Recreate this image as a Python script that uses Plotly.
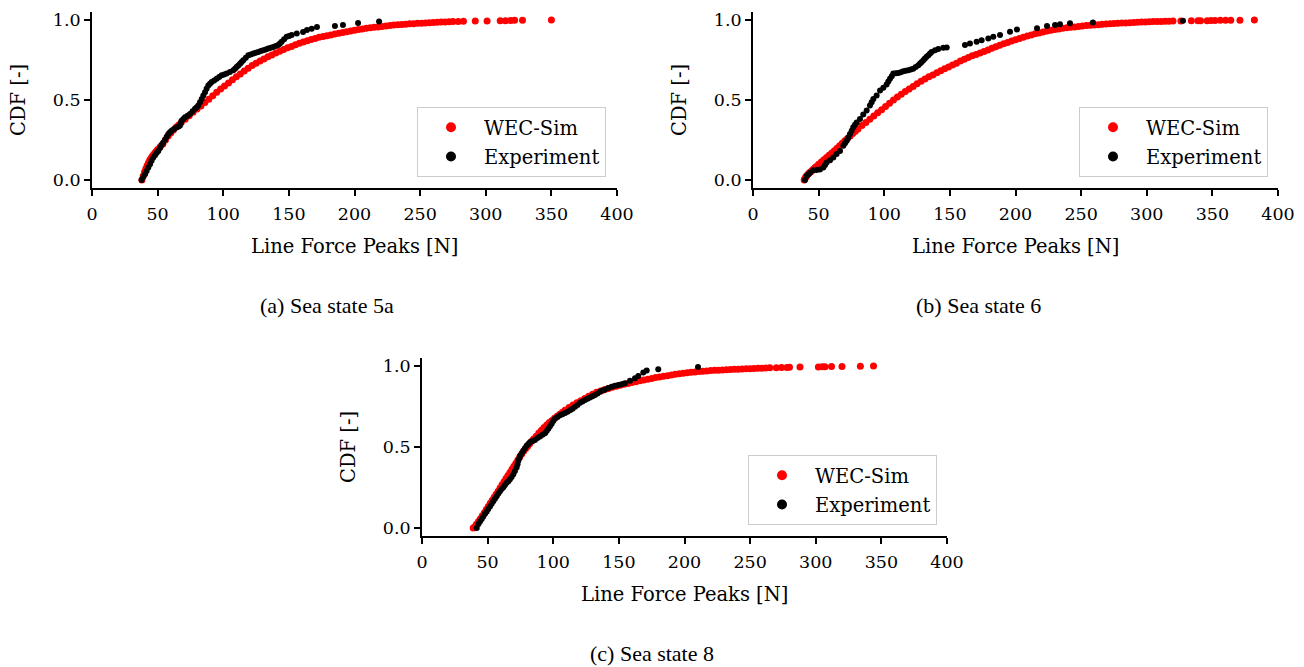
import plotly.graph_objects as go

# ---- Sea state 5a : line force peaks [N] and empirical CDF ----
sim_a_force = [38, 39, 40, 41, 42, 43, 44, 45, 46, 47, 48, 49, 50,
               52, 54, 56, 58, 60, 62, 64, 66, 68,
               71, 74, 77, 80, 83, 86, 89, 92, 95, 98, 101, 104, 107, 110, 113, 116, 119, 122,
               125, 128, 131, 134, 137, 140, 143, 146, 149, 152, 155, 158, 161, 164, 167, 170,
               173, 176, 179, 182, 185, 188, 191, 194, 197, 200, 203, 206, 209, 212, 215, 218,
               221, 224, 227, 230, 233, 236, 239, 242, 245, 248, 251, 254, 257, 260, 263, 266,
               269, 272,
               275, 279, 283, 292, 301, 311, 315, 319, 322, 328, 350]
sim_a_cdf = [0.000, 0.025, 0.050, 0.070, 0.090, 0.108, 0.125, 0.138, 0.150, 0.160, 0.170, 0.180, 0.190,
             0.208, 0.225, 0.250, 0.275, 0.293, 0.312, 0.330, 0.344, 0.359,
             0.380, 0.401, 0.423, 0.443, 0.463, 0.484, 0.505, 0.527, 0.548, 0.568, 0.588, 0.607, 0.627,
             0.646, 0.663, 0.681, 0.698, 0.715, 0.729, 0.743, 0.756, 0.770,
             0.782, 0.793, 0.805, 0.816, 0.826, 0.835, 0.845, 0.854, 0.862, 0.870,
             0.878, 0.885, 0.892, 0.897, 0.902, 0.907, 0.912, 0.917, 0.922, 0.927,
             0.932, 0.936, 0.940, 0.944, 0.948, 0.951, 0.954, 0.957, 0.960, 0.963,
             0.965, 0.968, 0.970, 0.972, 0.974, 0.976, 0.977, 0.979, 0.980, 0.982,
             0.983, 0.985, 0.986, 0.987, 0.988, 0.989,
             0.990, 0.991, 0.992, 0.993, 0.994, 0.995, 0.996, 0.997, 0.998, 0.999, 1.000]

exp_a_force = [37.8, 39.0, 40.4, 41.6, 42.9, 44.2, 45.4, 46.7, 48.0, 49.2, 50.5, 51.8, 53.0, 54.3,
               55.6, 56.9, 58.2, 59.4, 60.7, 62.6, 64.5, 66.0, 67.0, 67.6, 68.3, 69.6, 70.9, 72.8,
               74.7, 76.6, 78.5, 79.8, 81.0, 82.3, 83.6, 84.8, 86.1, 87.3, 88.6, 89.9, 91.2, 93.1,
               95.0, 96.9, 98.8, 100.7, 102.6, 105.1, 107.7, 109.0, 110.2, 111.5, 112.8, 114.0,
               115.3, 117.2, 119.1, 121.0, 122.9, 124.8, 126.7, 128.6, 130.5, 132.4, 134.3, 136.2,
               138.1, 140.0, 141.9, 143.2, 144.5, 146.4, 148.3, 150.2, 152.1, 156.0, 160.8, 163.8,
               167.4, 171.4, 185.1, 191.2, 202.7, 218.7]
exp_a_cdf = [0.000, 0.018, 0.036, 0.057, 0.078, 0.099, 0.120, 0.140, 0.154, 0.168, 0.182, 0.200, 0.218,
             0.235, 0.252, 0.270, 0.287, 0.298, 0.308, 0.318, 0.329, 0.335, 0.340, 0.355, 0.371, 0.382,
             0.392, 0.402, 0.413, 0.429, 0.445, 0.455, 0.465, 0.486, 0.507, 0.528, 0.549, 0.570, 0.591,
             0.601, 0.612, 0.622, 0.633, 0.643, 0.654, 0.660, 0.665, 0.675, 0.686, 0.696, 0.706, 0.716,
             0.727, 0.737, 0.748, 0.764, 0.780, 0.785, 0.790, 0.795, 0.800, 0.806, 0.811, 0.816, 0.822,
             0.827, 0.832, 0.838, 0.843, 0.853, 0.864, 0.880, 0.895, 0.900, 0.906, 0.915, 0.925, 0.937,
             0.946, 0.956, 0.962, 0.969, 0.981, 0.990]

# ---- Sea state 6 ----
sim_b_force = [39, 39.5, 40, 40.5, 41, 42, 43, 44, 45, 46, 47, 48,
               50, 52, 54, 56, 58, 60, 62, 64, 66, 68, 70, 72, 74, 76, 78, 80,
               83, 86, 89, 92, 95, 98, 101, 104, 107, 110, 113, 116, 119, 122, 125, 128, 131, 134,
               137, 140, 143, 146, 149, 152, 155, 158, 161, 164, 167, 170, 173, 176, 179, 182,
               185, 188, 191, 194, 197, 200, 203, 206, 209, 212, 215, 218, 221, 224, 227, 230,
               233, 236, 239, 242, 245, 248, 251, 254, 257, 260, 263, 266, 269, 272, 275, 278,
               281, 284, 287, 290, 293, 296, 299, 302, 305, 308, 311, 314, 317, 320,
               326, 334, 339, 341, 346, 349, 352, 356, 360, 364, 371, 382]
sim_b_cdf = [0.000, 0.008, 0.015, 0.022, 0.028, 0.038, 0.045, 0.052, 0.060, 0.067, 0.075, 0.083,
             0.098, 0.113, 0.127, 0.141, 0.155, 0.169, 0.183, 0.198, 0.214, 0.229, 0.245, 0.260,
             0.275, 0.290, 0.304, 0.319,
             0.340, 0.360, 0.380, 0.400, 0.420, 0.439, 0.459, 0.479, 0.500, 0.518,
             0.536, 0.553, 0.569, 0.585, 0.601, 0.617, 0.631, 0.645, 0.657, 0.670,
             0.683, 0.696, 0.707, 0.718, 0.730, 0.744, 0.755, 0.766, 0.776, 0.784,
             0.793, 0.803, 0.813, 0.823, 0.833, 0.842, 0.851, 0.860, 0.869, 0.877,
             0.885, 0.892, 0.900, 0.907, 0.914, 0.919, 0.925, 0.931, 0.936, 0.940,
             0.944, 0.948, 0.952, 0.955, 0.957, 0.960, 0.962, 0.965, 0.967, 0.969,
             0.971, 0.973, 0.975, 0.976, 0.978, 0.979, 0.981, 0.982, 0.983, 0.985,
             0.986, 0.987, 0.988, 0.989, 0.990, 0.990, 0.991, 0.992, 0.992, 0.993,
             0.994, 0.995, 0.995, 0.996, 0.996, 0.997, 0.997, 0.998, 0.998, 0.999, 0.999, 1.000]

exp_b_force = [39.6, 40.9, 42.2, 43.4, 45.9, 48.5, 51.0, 53.6, 54.9, 56.1, 58.7, 61.2, 63.7, 66.3,
               68.8, 70.1, 71.4, 72.7, 73.9, 75.2, 76.4, 77.7, 79.0, 81.5, 84.0, 86.6, 89.1, 90.4,
               91.7, 94.2, 96.8, 99.3, 101.8, 103.1, 104.4, 105.7, 106.9, 108.8, 110.7, 112.6,
               114.5, 116.4, 118.3, 120.2, 122.1, 124.0, 126.0, 127.3, 128.5, 129.8, 131.0, 132.3,
               133.6, 134.9, 136.1, 138.7, 141.2, 145.0, 147.6, 161.5, 165.3, 170.4, 174.2, 179.3,
               183.1, 188.2, 195.8, 201.1, 216.4, 224.0, 230.1, 233.9, 241.5, 259.0, 327.6]
exp_b_cdf = [0.000, 0.025, 0.036, 0.046, 0.061, 0.063, 0.065, 0.078, 0.094, 0.109, 0.124, 0.140,
             0.162, 0.182, 0.214, 0.230, 0.245, 0.266, 0.287, 0.308, 0.329, 0.345, 0.360, 0.382,
             0.409, 0.434, 0.465, 0.486, 0.507, 0.528, 0.560, 0.577, 0.597, 0.615, 0.633, 0.649,
             0.665, 0.667, 0.669, 0.674, 0.679, 0.683, 0.686, 0.691, 0.696, 0.706, 0.717, 0.728,
             0.738, 0.749, 0.759, 0.770, 0.780, 0.790, 0.800, 0.811, 0.818, 0.826, 0.828, 0.843,
             0.853, 0.864, 0.874, 0.885, 0.895, 0.906, 0.927, 0.941, 0.948, 0.962, 0.969, 0.973,
             0.979, 0.985, 0.996]

# ---- Sea state 8 ----
sim_c_force = [39, 40, 41.5, 43, 44.5, 46, 47.5, 49, 50.5, 52, 53.5, 55, 56.5, 58, 59.5, 61, 62.5,
               64, 65.5, 67, 68.5, 70, 71.5, 73, 74.5, 76, 77.5, 79, 80.5, 82, 83.5, 85,
               87, 89, 91, 93, 95, 97, 99, 101, 103, 105, 107, 109,
               112, 115, 118, 121, 124, 127, 130, 133, 136, 139, 142, 145, 148, 151, 154, 157,
               160, 163, 166, 169, 172, 175, 178, 181, 184, 187, 190, 193, 196, 199, 202, 205,
               208, 211, 214, 217, 220, 223, 226, 229, 232, 235, 238, 241, 244, 247, 250,
               253, 256, 259, 262, 265,
               270, 274, 278, 280, 288, 302, 305, 307, 312, 320, 334, 344]
sim_c_cdf = [0.000, 0.006, 0.022, 0.040, 0.056, 0.075, 0.094, 0.113, 0.133, 0.152, 0.171, 0.190,
             0.208, 0.227, 0.247, 0.266, 0.286, 0.305, 0.324, 0.343, 0.362, 0.381, 0.400, 0.419,
             0.438, 0.457, 0.475, 0.490, 0.505, 0.520, 0.535, 0.549,
             0.567, 0.586, 0.603, 0.620, 0.636, 0.651, 0.664, 0.677, 0.690, 0.702, 0.715, 0.727,
             0.744, 0.760, 0.773, 0.786, 0.799, 0.813, 0.826, 0.838, 0.846, 0.854,
             0.862, 0.869, 0.875, 0.882, 0.888, 0.893, 0.898, 0.904, 0.909, 0.914,
             0.919, 0.924, 0.929, 0.933, 0.937, 0.941, 0.945, 0.949, 0.953, 0.956,
             0.959, 0.962, 0.964, 0.966, 0.968, 0.970, 0.972, 0.974, 0.975, 0.976,
             0.977, 0.979, 0.980, 0.981, 0.982, 0.983, 0.984,
             0.985, 0.986, 0.987, 0.988, 0.989,
             0.990, 0.991, 0.992, 0.993, 0.994, 0.995, 0.996, 0.996, 0.997, 0.998, 0.999, 1.000]

exp_c_force = [41.7, 43.0, 44.2, 45.5, 46.7, 48.0, 49.3, 50.5, 51.8, 53.1, 54.3, 55.6, 56.9, 58.2,
               59.4, 60.7, 62.0, 63.2, 64.5, 65.8, 67.0, 68.3, 69.6, 70.8, 72.1, 72.8, 73.4, 74.1,
               74.7, 76.0, 77.2, 78.5, 79.7, 81.0, 82.3, 84.2, 86.1, 88.0, 89.9, 91.8, 93.7, 95.0,
               96.3, 97.5, 98.8, 100.0, 101.3, 103.2, 105.1, 107.0, 109.0, 110.9, 112.8, 114.7,
               116.6, 118.5, 120.4, 122.3, 124.2, 126.1, 128.0, 129.9, 131.8, 133.7, 135.6, 137.5,
               139.4, 142.0, 144.5, 147.0, 149.6, 152.2, 154.7, 158.5, 162.3, 164.8, 168.6, 171.2,
               180.0, 210.3]
exp_c_cdf = [0.000, 0.024, 0.040, 0.055, 0.071, 0.087, 0.102, 0.117, 0.133, 0.149, 0.165, 0.180,
             0.196, 0.212, 0.227, 0.240, 0.252, 0.265, 0.279, 0.289, 0.300, 0.315, 0.331, 0.352,
             0.373, 0.394, 0.415, 0.430, 0.446, 0.461, 0.477, 0.492, 0.508, 0.518, 0.529, 0.537,
             0.544, 0.555, 0.565, 0.575, 0.585, 0.599, 0.613, 0.628, 0.644, 0.660, 0.675, 0.685,
             0.696, 0.703, 0.710, 0.718, 0.727, 0.737, 0.748, 0.760, 0.773, 0.781, 0.790, 0.798,
             0.806, 0.813, 0.821, 0.831, 0.842, 0.849, 0.856, 0.864, 0.873, 0.878, 0.883, 0.888,
             0.894, 0.910, 0.925, 0.939, 0.960, 0.973, 0.981, 0.994]

x_ticks = [0, 50, 100, 150, 200, 250, 300, 350, 400]
y_ticks = [0.0, 0.5, 1.0]
y_tick_text = ["0.0", "0.5", "1.0"]
series_names = ["WEC-Sim", "Experiment"]
captions = ["(a) Sea state 5a", "(b) Sea state 6", "(c) Sea state 8"]

W, H = 1304, 667
SIM_COLOR = "#ff0000"
EXP_COLOR = "#000000"
FONT = "DejaVu Serif"
TICK_FS = 17.5
LABEL_FS = 19.5

# panel geometry in pixels: (left, right, top, bottom) of each axes box
panels = [
    dict(box=(92, 617, 12, 188), sim=(sim_a_force, sim_a_cdf), exp=(exp_a_force, exp_a_cdf)),
    dict(box=(753, 1278, 12, 188), sim=(sim_b_force, sim_b_cdf), exp=(exp_b_force, exp_b_cdf)),
    dict(box=(422, 947, 358, 536), sim=(sim_c_force, sim_c_cdf), exp=(exp_c_force, exp_c_cdf)),
]
legend_boxes = [(606, 107), (1268, 107), (937, 455)]   # right, top
caption_pos = [(327, 305), (978, 305), (652, 653)]

fig = go.Figure()
layout = dict(
    width=W, height=H, margin=dict(l=0, r=0, t=0, b=0),
    paper_bgcolor="white", plot_bgcolor="white", template="none",
    font=dict(family=FONT, size=TICK_FS, color="black"),
    annotations=[],
)

for i, p in enumerate(panels):
    sfx = "" if i == 0 else str(i + 1)
    xa, ya = "x" + sfx, "y" + sfx
    leg = "legend" + sfx
    fig.add_trace(go.Scatter(x=p["sim"][0], y=p["sim"][1], mode="markers", xaxis=xa, yaxis=ya,
                             marker=dict(color=SIM_COLOR, size=7, line=dict(width=0)),
                             showlegend=False, hoverinfo="skip"))
    fig.add_trace(go.Scatter(x=p["exp"][0], y=p["exp"][1], mode="markers", xaxis=xa, yaxis=ya,
                             marker=dict(color=EXP_COLOR, size=6, line=dict(width=0)),
                             showlegend=False, hoverinfo="skip"))
    # legend entries with larger symbols
    for name, col in zip(series_names, [SIM_COLOR, EXP_COLOR]):
        fig.add_trace(go.Scatter(x=[None], y=[None], mode="markers", xaxis=xa, yaxis=ya,
                                 name=name, legend=leg, legendgroup=name + sfx,
                                 marker=dict(color=col, size=10)))

    l, r, t, b = p["box"]
    layout["xaxis" + sfx] = dict(
        domain=[l / W, r / W], anchor=ya, range=[0, 400], tickvals=x_ticks,
        ticks="outside", ticklen=6, tickwidth=1.5, tickcolor="black", ticklabelstandoff=3,
        showline=True, linecolor="black", linewidth=1.8, showgrid=False, zeroline=False,
        tickfont=dict(family=FONT, size=TICK_FS), fixedrange=True,
    )
    layout["yaxis" + sfx] = dict(
        domain=[1 - b / H, 1 - t / H], anchor=xa, range=[-0.05, 1.05], tickvals=y_ticks,
        ticktext=y_tick_text, ticks="outside", ticklen=6, tickwidth=1.5, tickcolor="black",
        showline=True, linecolor="black", linewidth=1.8, showgrid=False, zeroline=False,
        tickfont=dict(family=FONT, size=TICK_FS), fixedrange=True,
    )
    lr, lt = legend_boxes[i]
    layout[leg] = dict(
        x=lr / W, xanchor="right", y=1 - lt / H, yanchor="top",
        bgcolor="rgba(255,255,255,0.8)", bordercolor="#cccccc", borderwidth=1,
        font=dict(family=FONT, size=LABEL_FS), traceorder="grouped", tracegroupgap=1,
        itemwidth=56,
    )
    # axis titles
    layout["annotations"].append(dict(
        text="Line Force Peaks [N]", x=(l + r) / 2 / W, y=1 - (b + 58) / H,
        xref="paper", yref="paper", showarrow=False, xanchor="center", yanchor="middle",
        font=dict(family=FONT, size=LABEL_FS)))
    layout["annotations"].append(dict(
        text="CDF [-]", x=(l - 74) / W, y=1 - (t + b) / 2 / H, textangle=-90,
        xref="paper", yref="paper", showarrow=False, xanchor="center", yanchor="middle",
        font=dict(family=FONT, size=LABEL_FS)))
    cx, cy = caption_pos[i]
    layout["annotations"].append(dict(
        text=captions[i], x=cx / W, y=1 - cy / H, xref="paper", yref="paper",
        showarrow=False, xanchor="center", yanchor="middle",
        font=dict(family="Liberation Serif", size=22)))

fig.update_layout(**layout)
fig.write_html("out.html")
